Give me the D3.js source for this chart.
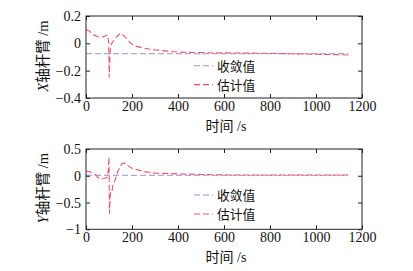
<!DOCTYPE html>
<html>
<head>
<meta charset="utf-8">
<script src="https://cdn.jsdelivr.net/npm/d3@7"></script>
<style>
body { margin: 0; background: #fff; }
svg { display: block; }
</style>
</head>
<body>
<svg id="chart" width="413" height="271"></svg>
<script>
// ---- data ----
const xTicks = [0, 200, 400, 600, 800, 1000, 1200];
const yTicksX = [0.2, 0, -0.2, -0.4];
const yTicksY = [0.5, 0, -0.5, -1];
const legendLabels = ["收敛值", "估计值"];

const convTime = [0, 1140];
const convX = [-0.076, -0.076];
const convY = [0.01, 0.01];

const estTimeX = [0, 15, 30, 50, 70, 85, 95, 99, 101, 104, 107, 112, 125, 140, 152, 165, 180, 195, 215, 250, 300, 400, 500, 600, 800, 1000, 1140];
const estX = [0.10, 0.09, 0.065, 0.05, 0.045, 0.055, 0.06, 0.0, -0.25, -0.10, -0.02, 0.0, 0.03, 0.06, 0.075, 0.055, 0.03, 0.0, -0.02, -0.035, -0.048, -0.064, -0.068, -0.07, -0.073, -0.08, -0.085];

const estTimeY = [0, 20, 40, 61, 80, 92, 97, 100, 102, 106, 112, 118, 126, 140, 155, 170, 185, 200, 250, 300, 400, 500, 600, 800, 1000, 1140];
const estY = [0.09, 0.07, 0.02, -0.06, -0.05, -0.03, 0.1, 0.35, -0.71, -0.3, -0.31, -0.15, -0.09, 0.1, 0.22, 0.24, 0.18, 0.14, 0.08, 0.05, 0.035, 0.025, 0.015, 0.013, 0.013, 0.013];

// ---- drawing ----
const svg = d3.select("#chart");
const purple = "#a68ac6";
const red = "#f2506a";
const serif = "'Liberation Serif', 'Times New Roman', serif";
const cjk = "'Noto Sans CJK SC', sans-serif";

function fmt(v) {
  return v < 0 ? "\u2212" + String(-v) : String(v);
}

function panel(cfg) {
  const left = 86, right = 362;
  const x = d3.scaleLinear().domain([0, 1200]).range([left, right]);
  const y = d3.scaleLinear().domain(cfg.yDomain).range([cfg.bottom, cfg.top]);
  const g = svg.append("g");

  // lines
  const line = d3.line().x(d => x(d[0])).y(d => y(d[1]));
  g.append("path")
    .datum(cfg.convT.map((t, i) => [t, cfg.conv[i]]))
    .attr("d", line).attr("fill", "none").attr("stroke", purple)
    .attr("stroke-width", 1.1).attr("stroke-dasharray", "6,3");
  g.append("path")
    .datum(cfg.estT.map((t, i) => [t, cfg.est[i]]))
    .attr("d", line).attr("fill", "none").attr("stroke", red)
    .attr("stroke-width", 1.1).attr("stroke-dasharray", "6,3");

  // axes (ticks inward)
  const ax = g.append("g").attr("transform", `translate(0,${cfg.bottom})`)
    .call(d3.axisBottom(x).tickValues(xTicks).tickSize(-4).tickPadding(3).tickFormat(d => d));
  const axTop = g.append("g").attr("transform", `translate(0,${cfg.top})`)
    .call(d3.axisTop(x).tickValues(xTicks).tickSize(-4).tickFormat(""));
  const ay = g.append("g").attr("transform", `translate(${left},0)`)
    .call(d3.axisLeft(y).tickValues(cfg.yTicks).tickSize(-4).tickPadding(5).tickFormat(fmt));
  const ayR = g.append("g").attr("transform", `translate(${right},0)`)
    .call(d3.axisRight(y).tickValues(cfg.yTicks).tickSize(-4).tickFormat(""));
  [ax, axTop, ay, ayR].forEach(a => {
    a.select(".domain").remove();
    a.selectAll("line").attr("stroke", "#222");
    a.selectAll("text").attr("font-family", serif).attr("font-size", 14).attr("fill", "#111");
  });
  g.append("rect").attr("x", left).attr("y", cfg.top)
    .attr("width", right - left).attr("height", cfg.bottom - cfg.top)
    .attr("fill", "none").attr("stroke", "#222").attr("stroke-width", 1);

  // x label
  g.append("text").attr("x", 226).attr("y", cfg.bottom + 33)
    .attr("text-anchor", "middle").attr("font-size", 14).attr("fill", "#111")
    .html(`<tspan font-family="${cjk}">时间</tspan><tspan font-family="${serif}"> /s</tspan>`);

  // y label
  const cy = (cfg.top + cfg.bottom) / 2 - 1;
  g.append("text").attr("transform", `translate(48,${cy}) rotate(-90)`)
    .attr("text-anchor", "middle").attr("font-size", 14.5).attr("fill", "#111")
    .html(`<tspan font-family="${serif}" font-style="italic">${cfg.axisLetter}</tspan><tspan font-family="${cjk}">轴杆臂</tspan><tspan font-family="${serif}"> /m</tspan>`);

  // legend
  const colors = [purple, red];
  legendLabels.forEach((lab, i) => {
    const ly = cfg.legendY[i];
    g.append("line").attr("x1", 194).attr("x2", 213).attr("y1", ly).attr("y2", ly)
      .attr("stroke", colors[i]).attr("stroke-width", 1.1).attr("stroke-dasharray", "6,3");
    g.append("text").attr("x", 217).attr("y", ly + 5)
      .attr("font-family", cjk).attr("font-size", 12.8).attr("fill", "#111").text(lab);
  });
}

panel({ top: 16, bottom: 98, yDomain: [-0.4, 0.2], yTicks: yTicksX,
  convT: convTime, conv: convX, estT: estTimeX, est: estX,
  axisLetter: "X", legendY: [65.8, 84.6] });
panel({ top: 149, bottom: 229.3, yDomain: [-1, 0.5], yTicks: yTicksY,
  convT: convTime, conv: convY, estT: estTimeY, est: estY,
  axisLetter: "Y", legendY: [195, 214] });
</script>
</body>
</html>
